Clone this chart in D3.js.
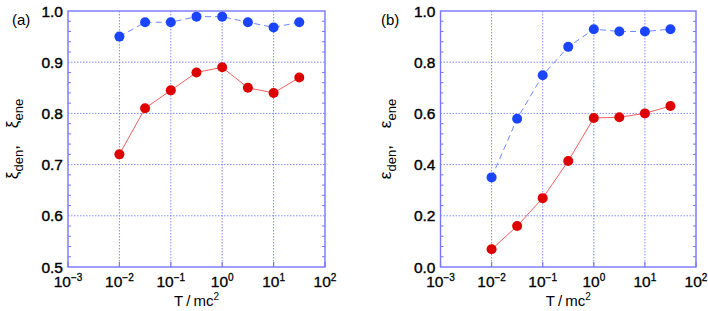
<!DOCTYPE html>
<html>
<head>
<meta charset="utf-8">
<script src="https://cdn.jsdelivr.net/npm/d3@7"></script>
<style>
  body { margin: 0; background: #fff; }
  svg { display: block; font-family: 'Liberation Sans', Arial, sans-serif; }
</style>
</head>
<body>
<div id="chart"></div>
<script>
'use strict'

// T/mc^2 sample points
const TEMPS = [0.01, 0.0316, 0.1, 0.316, 1, 3.16, 10, 31.6]

// panel (a)
const XI_DEN = [0.72, 0.81, 0.845, 0.88, 0.89, 0.85, 0.84, 0.87]
const XI_ENE = [0.95, 0.978, 0.978, 0.989, 0.989, 0.978, 0.968, 0.978]

// panel (b)
const EPS_DEN = [0.069, 0.16, 0.269, 0.414, 0.582, 0.585, 0.60, 0.629]
const EPS_ENE = [0.35, 0.579, 0.749, 0.86, 0.929, 0.92, 0.92, 0.929]

const X_TICK_EXPS = [-3, -2, -1, 0, 1, 2]
const Y_TICKS_A = [0.5, 0.6, 0.7, 0.8, 0.9, 1.0]
const Y_TICKS_B = [0.0, 0.2, 0.4, 0.6, 0.8, 1.0]

const WIDTH = 708
const HEIGHT = 311

const FRAME_COLOR = '#7676ff'
const GRID_COLOR = '#7f8cff'
const RED = '#dd0000'
const BLUE = '#1a44ff'

const svg = d3.select('#chart').append('svg')
  .attr('width', WIDTH)
  .attr('height', HEIGHT)

function drawPanel (opts) {
  const x = d3.scaleLog()
    .domain([1e-3, 1e2])
    .range([opts.left, opts.right])

  const y = d3.scaleLinear()
    .domain(d3.extent(opts.yTicks))
    .range([opts.bottom, opts.top])

  const g = svg.append('g')
  const fmt = d3.format('.1f')
  const step = opts.yTicks[1] - opts.yTicks[0]

  // grid
  X_TICK_EXPS.slice(1, -1).forEach(e => {
    g.append('line')
      .attr('x1', x(Math.pow(10, e))).attr('x2', x(Math.pow(10, e)))
      .attr('y1', opts.top).attr('y2', opts.bottom)
      .attr('stroke', GRID_COLOR).attr('stroke-width', 1)
      .attr('stroke-dasharray', '1.5,1.5')
  })
  opts.yTicks.slice(1, -1).forEach(v => {
    g.append('line')
      .attr('x1', opts.left).attr('x2', opts.right)
      .attr('y1', y(v)).attr('y2', y(v))
      .attr('stroke', GRID_COLOR).attr('stroke-width', 1)
      .attr('stroke-dasharray', '1.5,1.5')
  })

  // minor y ticks, both sides
  const minors = []
  for (let i = 0; i < opts.yTicks.length - 1; i++) {
    for (let k = 1; k < 5; k++) minors.push(opts.yTicks[i] + step * k / 5)
  }
  minors.forEach(v => {
    g.append('line')
      .attr('x1', opts.left).attr('x2', opts.left + 3)
      .attr('y1', y(v)).attr('y2', y(v))
      .attr('stroke', FRAME_COLOR).attr('stroke-width', 1)
    g.append('line')
      .attr('x1', opts.right).attr('x2', opts.right - 3)
      .attr('y1', y(v)).attr('y2', y(v))
      .attr('stroke', FRAME_COLOR).attr('stroke-width', 1)
  })

  // major x ticks at the bottom
  X_TICK_EXPS.forEach(e => {
    g.append('line')
      .attr('x1', x(Math.pow(10, e))).attr('x2', x(Math.pow(10, e)))
      .attr('y1', opts.bottom).attr('y2', opts.bottom - 5)
      .attr('stroke', FRAME_COLOR).attr('stroke-width', 1.2)
  })

  // frame
  g.append('rect')
    .attr('x', opts.left).attr('y', opts.top)
    .attr('width', opts.right - opts.left)
    .attr('height', opts.bottom - opts.top)
    .attr('fill', 'none')
    .attr('stroke', FRAME_COLOR)
    .attr('stroke-width', 1.4)

  // y tick labels
  opts.yTicks.forEach(v => {
    g.append('text')
      .attr('x', opts.left - 5)
      .attr('y', y(v))
      .attr('dy', '0.36em')
      .attr('text-anchor', 'end')
      .style('font-size', '15.5px')
      .attr('fill', '#000')
      .attr('stroke', '#000')
      .attr('stroke-width', 0.4)
      .text(fmt(v))
  })

  // x tick labels 10^n
  X_TICK_EXPS.forEach(e => {
    const t = g.append('text')
      .attr('x', x(Math.pow(10, e)))
      .attr('y', opts.bottom + 20)
      .attr('text-anchor', 'middle')
      .style('font-size', '15.5px')
      .attr('fill', '#000')
      .attr('stroke', '#000')
      .attr('stroke-width', 0.3)
    t.append('tspan').text('10')
    t.append('tspan')
      .attr('dy', '-6')
      .style('font-size', '10px')
      .text(e < 0 ? '\u2212' + (-e) : String(e))
  })

  // x axis title
  const xt = g.append('text')
    .attr('x', (opts.left + opts.right) / 2)
    .attr('y', opts.bottom + 39)
    .attr('text-anchor', 'middle')
    .style('font-size', '15px')
    .attr('fill', '#000')
  xt.append('tspan').text('T\u2009/\u2009mc')
  xt.append('tspan').attr('dy', '-6').style('font-size', '10px').text('2')

  // y axis title
  const yt = g.append('text')
    .attr('transform', 'translate(' + opts.titleX + ',' + ((opts.top + opts.bottom) / 2) + ') rotate(-90)')
    .attr('text-anchor', 'middle')
    .style('font-size', '17px')
    .attr('fill', '#000')
  yt.append('tspan').text(opts.sym)
  yt.append('tspan').attr('dy', '5').style('font-size', '13px').text('den')
  yt.append('tspan').attr('dy', '-5').text(',\u2003' + opts.sym)
  yt.append('tspan').attr('dy', '5').style('font-size', '13px').text('ene')

  // panel label
  g.append('text')
    .attr('x', opts.labelX)
    .attr('y', 25)
    .style('font-size', '15px')
    .attr('fill', '#000')
    .text(opts.label)

  const line = d3.line()
    .x((d, i) => x(TEMPS[i]))
    .y(d => y(d))

  g.append('path')
    .datum(opts.ene)
    .attr('d', line)
    .attr('fill', 'none')
    .attr('stroke', '#6f86ff')
    .attr('stroke-width', 1)
    .attr('stroke-dasharray', '6,4')

  g.append('path')
    .datum(opts.den)
    .attr('d', line)
    .attr('fill', 'none')
    .attr('stroke', '#ee6060')
    .attr('stroke-width', 1)

  g.selectAll('circle.ene')
    .data(opts.ene)
    .enter().append('circle')
    .attr('class', 'ene')
    .attr('cx', (d, i) => x(TEMPS[i]))
    .attr('cy', d => y(d))
    .attr('r', 5)
    .attr('fill', BLUE)

  g.selectAll('circle.den')
    .data(opts.den)
    .enter().append('circle')
    .attr('class', 'den')
    .attr('cx', (d, i) => x(TEMPS[i]))
    .attr('cy', d => y(d))
    .attr('r', 5)
    .attr('fill', RED)
}

drawPanel({
  left: 68,
  right: 325,
  top: 11,
  bottom: 267,
  yTicks: Y_TICKS_A,
  den: XI_DEN,
  ene: XI_ENE,
  sym: '\u03be',
  label: '(a)',
  labelX: 12,
  titleX: 18
})

drawPanel({
  left: 440.5,
  right: 696,
  top: 11,
  bottom: 267,
  yTicks: Y_TICKS_B,
  den: EPS_DEN,
  ene: EPS_ENE,
  sym: '\u03b5',
  label: '(b)',
  labelX: 381,
  titleX: 391
})
</script>
</body>
</html>
